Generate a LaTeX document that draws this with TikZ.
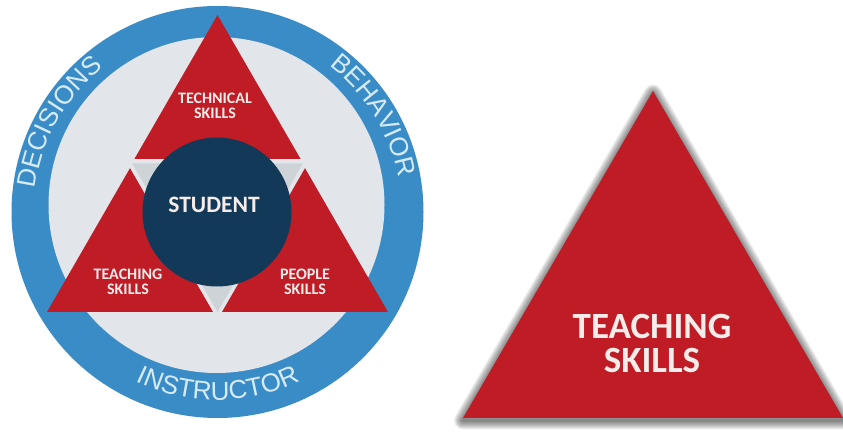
\documentclass[tikz,border=0pt]{standalone}
\usepackage{fontspec}
\setmainfont{Carlito}
\newfontfamily\ringfont{Liberation Sans}
\usetikzlibrary{decorations.text}
\definecolor{ringblue}{HTML}{3A8CC7}
\definecolor{innergray}{HTML}{E2E5E9}
\definecolor{skillred}{HTML}{BF1C26}
\definecolor{navy}{HTML}{123A58}
\definecolor{gapgray}{HTML}{CDD3D7}
\definecolor{ringtext}{HTML}{D6EBF7}
\definecolor{labeltext}{HTML}{F6ECEA}
\begin{document}
\begin{tikzpicture}[x=1pt,y=1pt,
  skilltri/.style={fill=skillred, draw=none},
  smalllabel/.style={text=labeltext, font=\fontsize{16}{15}\selectfont\bfseries, align=center, inner sep=0pt},
  ringlabel/.style={decorate, decoration={text along path, text align=center, text={|\ringfont\fontsize{26}{26}\selectfont\color{ringtext}|#1}}}
]
\useasboundingbox (0,0) rectangle (843,433);
\fill[white] (0,0) rectangle (843,433);
% ring and inner disc
\coordinate (oc) at (217.5,221);
\coordinate (ic) at (216.5,228);
\fill[ringblue] (oc) circle (206pt);
\fill[innergray] (ic) circle (168pt);
% ring labels
\path[ringlabel={DECISIONS}] ([shift={(182:184pt)}]oc) arc (182:119:184pt);
\path[ringlabel={BEHAVIOR}] ([shift={(63:184pt)}]oc) arc (63:0.5:184pt);
\path[ringlabel={INSTRUCTOR}] ([shift={(232:188pt)}]oc) arc (232:308.3:188pt);
% triangles
\fill[gapgray] (132.25,269.5) -- (302.75,269.5) -- (217.5,121) -- cycle;
\fill[skilltri] (217.5,418) -- (134.5,274.2) -- (300.5,274.2) -- cycle;
\fill[skilltri] (47,121) -- (213,121) -- (130,264.8) -- cycle;
\fill[skilltri] (222,121) -- (388,121) -- (305,264.8) -- cycle;
% student
\node[circle, fill=navy, minimum size=149pt, inner sep=0pt] (student) at (217,221) {};
\node[text=labeltext, font=\fontsize{23.5}{24}\selectfont\bfseries, inner sep=0pt] (studentlabel) at (214,228.5) {STUDENT};
\node[smalllabel] (technical) at (215,327) {TECHNICAL\\SKILLS};
\node[smalllabel] (teachsmall) at (128,151.5) {TEACHING\\SKILLS};
\node[smalllabel] (people) at (305,151.5) {PEOPLE\\SKILLS};
% right triangle with shadow
\coordinate (ta) at (653,342);
\coordinate (tl) at (463,15);
\coordinate (tr) at (843,15);
\foreach \w in {2,4,...,18}
  \draw[black, opacity=0.065, line width=\w pt, line join=round]
    ([yshift=-2.5pt]tl) -- ([yshift=-2.5pt]tr) -- ([yshift=-2.5pt]ta) -- cycle;
\fill[skilltri] (tl) -- (tr) -- (ta) -- cycle;
\node[text=labeltext, font=\fontsize{37}{34}\selectfont\bfseries, align=center, inner sep=0pt] (teachbig) at (652,89.5) {TEACHING\\SKILLS};
\end{tikzpicture}
\end{document}
